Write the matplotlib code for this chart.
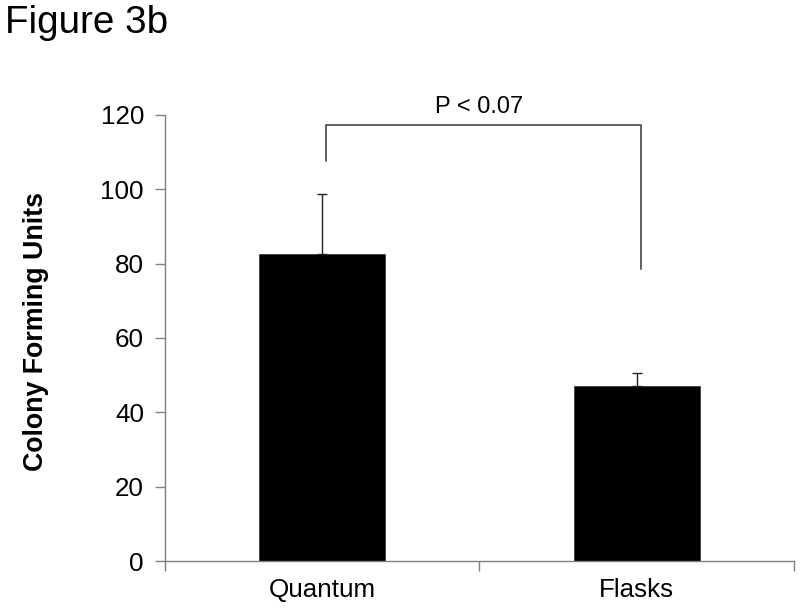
import matplotlib
matplotlib.use("Agg")
import matplotlib.pyplot as plt

categories = ["Quantum", "Flasks"]
values = [82.7, 47.1]
errors = [16.1, 3.4]
yticks = [0, 20, 40, 60, 80, 100, 120]
p_text = "P < 0.07"
bracket_left_y = 107.7
bracket_top_y = 117.3
bracket_right_y = 78.6

plt.rcParams['font.family'] = ['Liberation Sans', 'DejaVu Sans']

fig = plt.figure(figsize=(8, 6.08), dpi=100)
ax = fig.add_axes([0.206, 0.0773, 0.7865, 0.7336])

x = list(range(len(categories)))
ax.bar(x, values, width=0.4, color='black', edgecolor='#333333', linewidth=0.5, zorder=2)
ax.errorbar(x, values, yerr=[[0, 0], errors], fmt='none', ecolor='#222222',
            elinewidth=1.0, capsize=3.5, capthick=1.0, zorder=3)

ax.set_xlim(-0.5, 1.5)
ax.set_ylim(0, 120)
ax.set_yticks(yticks)
ax.set_yticklabels([str(v) for v in yticks], fontsize=18.7)
ax.set_xticks([-0.5, 0.5, 1.5])
ax.set_xticklabels([])
ax.set_xticks(x, minor=True)
ax.set_xticklabels(categories, minor=True, fontsize=18.7)
ax.tick_params(axis='x', which='minor', length=0, pad=12)
ax.tick_params(axis='x', which='major', length=7, color='#808080', width=1)
ax.tick_params(axis='y', length=7, color='#808080', width=1, pad=8)

for s in ['top', 'right']:
    ax.spines[s].set_visible(False)
for s in ['left', 'bottom']:
    ax.spines[s].set_color('#808080')
    ax.spines[s].set_linewidth(1)

ax.set_ylabel("Colony Forming Units", fontsize=19.3, fontweight='bold')
ax.yaxis.set_label_coords(-0.184, 0.515)

# significance bracket
xl, xr = x[0] + 0.011, x[1] + 0.013
ax.plot([xl, xl, xr, xr], [bracket_left_y, bracket_top_y, bracket_top_y, bracket_right_y],
        color='#333333', linewidth=1.1, clip_on=False, zorder=4)
ax.text((x[0] + x[1]) / 2, 120.5, p_text, ha='center', va='baseline', fontsize=17, clip_on=False)

fig.text(0.006, 0.991, "Figure 3b", ha='left', va='top', fontsize=27.8)

fig.savefig("out.png", dpi=100)
